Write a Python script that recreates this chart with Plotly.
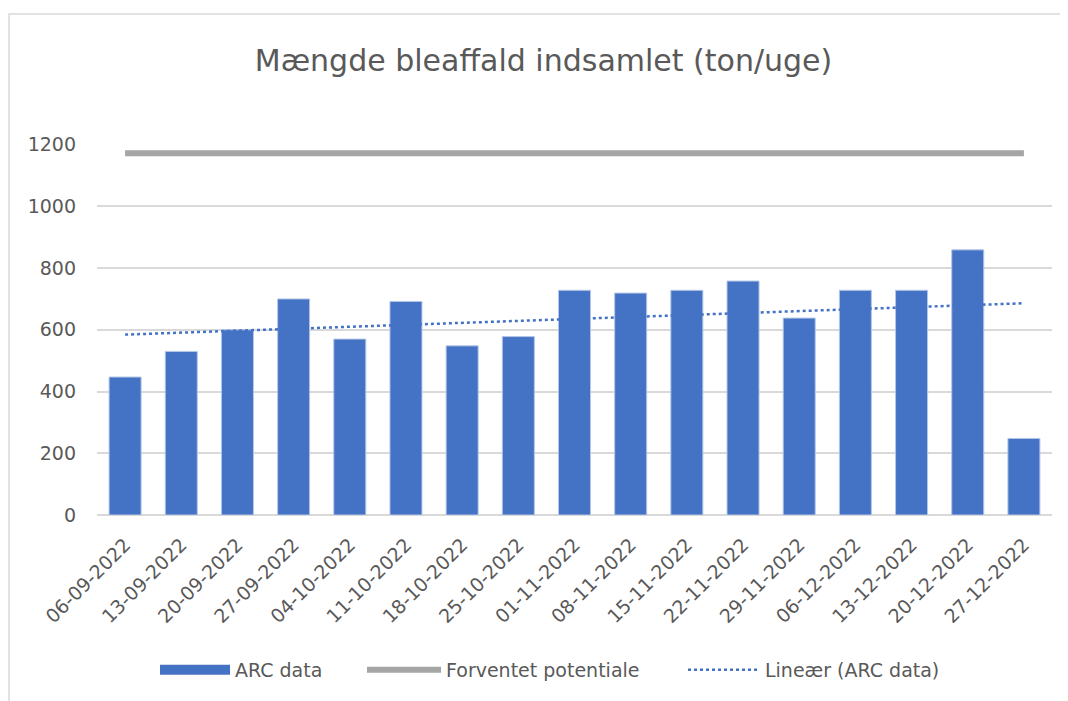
import numpy as np
import plotly.graph_objects as go

dates = ["06-09-2022", "13-09-2022", "20-09-2022", "27-09-2022", "04-10-2022",
         "11-10-2022", "18-10-2022", "25-10-2022", "01-11-2022", "08-11-2022",
         "15-11-2022", "22-11-2022", "29-11-2022", "06-12-2022", "13-12-2022",
         "20-12-2022", "27-12-2022"]
arc_data = [447, 530, 600, 700, 570, 692, 548, 578, 728, 719, 728, 758, 638, 728, 728, 859, 248]
forventet = [1172] * 17
y_ticks = [0, 200, 400, 600, 800, 1000, 1200]

# Excel-style linear trendline fitted to ARC data
xi = np.arange(len(arc_data))
slope, intercept = np.polyfit(xi, arc_data, 1)
trend = list(slope * xi + intercept)

FONT = "DejaVu Sans"
TXT = "#595959"
GRID = "#D9D9D9"
BLUE = "#4472C4"

# page offset (body margin) = 8px
OFF = 8
W, H = 1060, 693
L, T = 97 - OFF, 144 - OFF
R = W - (1052 - OFF)
B = H - (515 - OFF)
pw, ph = W - L - R, H - T - B

def px(xpage):
    return (xpage - OFF - L) / pw

def py(ypage):
    return ((H - B) - (ypage - OFF)) / ph

fig = go.Figure()
fig.add_trace(go.Bar(x=dates, y=arc_data, name="ARC data", showlegend=False,
                     marker=dict(color=BLUE, line=dict(color="#B4C7E7", width=1))))
# legend entry for bars (wide swatch as in the original)
fig.add_trace(go.Scatter(x=[None], y=[None], name="ARC data", mode="lines",
                         line=dict(color=BLUE, width=14), legend="legend"))
fig.add_trace(go.Scatter(x=dates, y=forventet, name="Forventet potentiale", mode="lines",
                         line=dict(color="#A5A5A5", width=6), legend="legend2"))
fig.add_trace(go.Scatter(x=dates, y=trend, name="Lineær (ARC data)", mode="lines",
                         line=dict(color=BLUE, width=2.5, dash="dot"), legend="legend3"))

legend_common = dict(orientation="h", yanchor="middle", y=py(670), xanchor="left",
                     font=dict(family=FONT, size=19, color=TXT), bgcolor="rgba(0,0,0,0)")

fig.update_layout(
    width=W, height=H,
    margin=dict(l=L, r=R, t=T, b=B),
    paper_bgcolor="white", plot_bgcolor="white",
    font=dict(family=FONT, color=TXT, size=19),
    title=dict(text="Mængde bleaffald indsamlet (ton/uge)", x=(543.5 - OFF) / W, xref="container",
               y=1 - (60 - OFF) / H, yref="container", xanchor="center", yanchor="middle",
               font=dict(family=FONT, size=30, color=TXT)),
    bargap=0.43,
    showlegend=True,
    legend=dict(**legend_common, x=px(160 - 5), itemwidth=70),
    legend2=dict(**legend_common, x=px(367 - 5), itemwidth=74),
    legend3=dict(**legend_common, x=px(688 - 5), itemwidth=72),
    shapes=[dict(type="rect", xref="paper", yref="paper",
                 x0=px(9), x1=px(1085), y0=py(720), y1=py(14),
                 line=dict(color=GRID, width=1.5), fillcolor="rgba(0,0,0,0)", layer="below")],
)
fig.update_xaxes(type="category", showgrid=False, showline=False, zeroline=False,
                 tickangle=-45, ticks="", tickfont=dict(family=FONT, size=19, color=TXT),
                 ticklabelstandoff=14)
fig.update_yaxes(range=[0, 1202], tickvals=y_ticks, showgrid=True, gridcolor=GRID, gridwidth=1.5,
                 zeroline=True, zerolinecolor=GRID, zerolinewidth=1.5, showline=False,
                 tickfont=dict(family=FONT, size=19, color=TXT), ticklabelstandoff=20)

fig.write_html("out.html")
